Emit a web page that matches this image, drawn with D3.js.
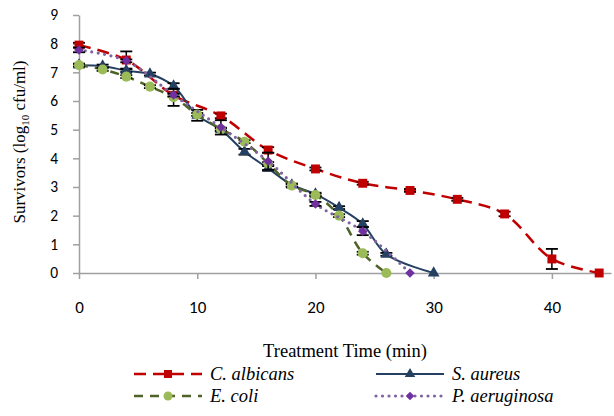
<!DOCTYPE html>
<html>
<head>
<meta charset="utf-8">
<script src="https://cdn.jsdelivr.net/npm/d3@7"></script>
<style>
  body { margin: 0; background: #fff; }
  svg { display: block; }
  .serif { font-family: "Liberation Serif", serif; }
  .tickfont { font-family: Carlito, "Open Sans", sans-serif; }
</style>
</head>
<body>
<svg id="chart" width="614" height="416"></svg>
<script>
// values
const albTime = [0, 4, 8, 12, 16, 20, 24, 28, 32, 36, 40, 44]
const albVal  = [7.95, 7.43, 6.2, 5.48, 4.29, 3.63, 3.13, 2.88, 2.57, 2.06, 0.49, 0]
const albErr  = [0.08, 0.3, 0.05, 0.08, 0.1, 0.05, 0.05, 0.05, 0.05, 0.08, 0.35, 0]

const aurTime = [0, 2, 4, 6, 8, 10, 12, 14, 16, 18, 20, 22, 24, 26, 30]
const aurVal  = [7.25, 7.22, 7.06, 6.94, 6.52, 5.5, 5.0, 4.23, 3.65, 3.07, 2.75, 2.28, 1.71, 0.65, 0]
const aurErr  = [0.05, 0.05, 0.05, 0.05, 0.1, 0.19, 0.05, 0.1, 0.08, 0.05, 0.05, 0.05, 0.1, 0.05, 0]

const coliTime = [0, 2, 4, 6, 8, 10, 12, 14, 16, 18, 20, 22, 24, 26]
const coliVal  = [7.25, 7.1, 6.85, 6.5, 6.13, 5.53, 5.02, 4.58, 3.82, 3.05, 2.72, 2.0, 0.69, 0]
const coliErr  = [0.05, 0.05, 0.05, 0.05, 0.3, 0.05, 0.05, 0.05, 0.05, 0.05, 0.05, 0.05, 0.05, 0]

const aerTime = [0, 4, 8, 12, 16, 20, 24, 28]
const aerVal  = [7.78, 7.4, 6.21, 5.08, 3.9, 2.41, 1.46, 0]
const aerErr  = [0.08, 0.05, 0.05, 0.25, 0.3, 0.07, 0.14, 0.03]

const xTicks = [0, 10, 20, 30, 40]
const yTicks = [0, 1, 2, 3, 4, 5, 6, 7, 8, 9]

const series = [
  { name: "C. albicans", time: albTime, val: albVal, err: albErr,
    stroke: "#C00000", width: 2.5, dash: "12,7", cap: "butt", fill: "#C00000", shape: d3.symbolSquare, size: 80, rot: 0 },
  { name: "S. aureus", time: aurTime, val: aurVal, err: aurErr,
    stroke: "#254061", width: 2, dash: null, cap: "butt", fill: "#254061", shape: d3.symbolTriangle, size: 60, rot: 0 },
  { name: "E. coli", time: coliTime, val: coliVal, err: coliErr,
    stroke: "#4F6228", width: 2.5, dash: "9,7", cap: "butt", fill: "#9BBB59", shape: d3.symbolCircle, size: 80, rot: 0 },
  { name: "P. aeruginosa", time: aerTime, val: aerVal, err: aerErr,
    stroke: "#8064A2", width: 3.2, dash: "0,6.5", cap: "round", fill: "#7030A0", shape: d3.symbolSquare, size: 45, rot: 45 }
]

const svg = d3.select("#chart")

const x = d3.scaleLinear().domain([0, 45]).range([79, 611])
const y = d3.scaleLinear().domain([0, 9]).range([273, 15])

const axisColor = "#A0A0A0"

// x axis
const gx = svg.append("g").attr("transform", `translate(0,${y(0)})`)
  .call(d3.axisBottom(x).tickValues(xTicks).tickSize(6).tickPadding(22).tickSizeOuter(0))
gx.select(".domain").attr("stroke", axisColor).attr("stroke-width", 1.5)
gx.selectAll(".tick line").attr("stroke", axisColor).attr("stroke-width", 1.5)
gx.attr("font-family", null).attr("font-size", null)
gx.selectAll("text").attr("class", "tickfont").style("font-size", "17px").attr("fill", "#000")

// y axis
const gy = svg.append("g").attr("transform", `translate(${x(0)},0)`)
  .call(d3.axisLeft(y).tickValues(yTicks).tickSize(6).tickPadding(15).tickSizeOuter(0))
gy.select(".domain").attr("stroke", axisColor).attr("stroke-width", 1.5)
gy.selectAll(".tick line").attr("stroke", axisColor).attr("stroke-width", 1.5)
gy.attr("font-family", null).attr("font-size", null)
gy.selectAll("text").attr("class", "tickfont").style("font-size", "15.5px").attr("fill", "#000")

// titles
svg.append("text")
  .attr("class", "serif")
  .attr("x", 345).attr("y", 357)
  .attr("text-anchor", "middle")
  .style("font-size", "18.5px")
  .text("Treatment Time (min)")

const yt = svg.append("text")
  .attr("class", "serif")
  .attr("transform", "translate(25,142) rotate(-90)")
  .attr("text-anchor", "middle")
  .style("font-size", "17px")
yt.append("tspan").text("Survivors (log")
yt.append("tspan").style("font-size", "11px").attr("dy", 4).text("10")
yt.append("tspan").attr("dy", -4).text(" cfu/ml)")

const line = d3.line()
  .x(d => x(d[0]))
  .y(d => y(d[1]))
  .curve(d3.curveCatmullRom.alpha(0.5))

series.forEach(s => {
  const pts = s.time.map((t, i) => [t, s.val[i], s.err[i]])
  const g = svg.append("g")

  g.append("path")
    .datum(pts)
    .attr("d", line)
    .attr("fill", "none")
    .attr("stroke", s.stroke)
    .attr("stroke-width", s.width)
    .attr("stroke-dasharray", s.dash)
    .attr("stroke-linecap", s.cap)

  // error bars
  const eb = g.selectAll(".err").data(pts.filter(d => d[2] > 0.04)).join("g")
  eb.append("line")
    .attr("x1", d => x(d[0])).attr("x2", d => x(d[0]))
    .attr("y1", d => y(d[1] + d[2])).attr("y2", d => y(d[1] - d[2]))
    .attr("stroke", "#000").attr("stroke-width", 1.5)
  eb.append("line")
    .attr("x1", d => x(d[0]) - 6).attr("x2", d => x(d[0]) + 6)
    .attr("y1", d => y(d[1] + d[2])).attr("y2", d => y(d[1] + d[2]))
    .attr("stroke", "#000").attr("stroke-width", 1.8)
  eb.append("line")
    .attr("x1", d => x(d[0]) - 6).attr("x2", d => x(d[0]) + 6)
    .attr("y1", d => y(d[1] - d[2])).attr("y2", d => y(d[1] - d[2]))
    .attr("stroke", "#000").attr("stroke-width", 1.8)

  g.selectAll(".mk").data(pts).join("path")
    .attr("transform", d => `translate(${x(d[0])},${y(d[1])}) rotate(${s.rot})`)
    .attr("d", d3.symbol().type(s.shape).size(s.size))
    .attr("fill", s.fill)
})

// legend
const legPos = [[134, 374], [376, 374], [134, 396], [376, 396]]
series.forEach((s, i) => {
  const [lx, ly] = legPos[i]
  const g = svg.append("g").attr("transform", `translate(${lx},${ly})`)
  g.append("line")
    .attr("x1", 0).attr("x2", 68).attr("y1", 0).attr("y2", 0)
    .attr("stroke", s.stroke)
    .attr("stroke-width", s.width)
    .attr("stroke-dasharray", s.dash)
    .attr("stroke-linecap", s.cap)
  g.append("path")
    .attr("transform", `translate(34,0) rotate(${s.rot})`)
    .attr("d", d3.symbol().type(s.shape).size(s.size * 0.8))
    .attr("fill", s.fill)
  g.append("text")
    .attr("class", "serif")
    .attr("x", 76).attr("y", 6)
    .style("font-style", "italic")
    .style("font-size", "18.5px")
    .text(s.name)
})
</script>
</body>
</html>
